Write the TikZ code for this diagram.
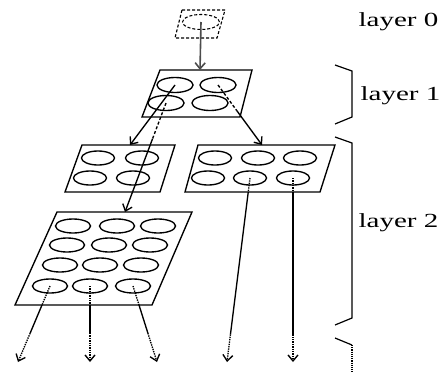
\documentclass[tikz,border=0pt]{standalone}
\usepackage{fontspec}
\setmainfont{Liberation Serif}
\usetikzlibrary{shapes.geometric,arrows.meta,calc}
\begin{document}
\begin{tikzpicture}[x=1pt,y=-1pt,line width=1.35pt,
  cell/.style={draw,ellipse,inner sep=0pt,minimum width=33pt,minimum height=14pt},
  bigcell/.style={cell,minimum width=36pt,minimum height=15pt},
  panel/.style={draw,line join=miter},
  tip/.style={-{Straight Barb[length=6pt,width=10pt]}},
  lbl/.style={anchor=west,inner sep=0pt,font=\fontsize{20}{22}\selectfont},
  brace/.style={draw,line width=1.2pt}]
\useasboundingbox (0,0) rectangle (441,372);
% layer 0
\coordinate (p0a) at (182,10); \coordinate (p0b) at (225,10);
\coordinate (p0c) at (217,38); \coordinate (p0d) at (175,38);
\draw[panel,densely dashed,line width=1.1pt] (p0a)--(p0b)--(p0c)--(p0d)--cycle;
\node[cell,densely dashed,line width=1.1pt,minimum width=37pt,minimum height=15pt] (z) at (201,22) {};
% layer 1
\coordinate (p1a) at (160,70); \coordinate (p1b) at (252,70);
\coordinate (p1c) at (240,117); \coordinate (p1d) at (142,117);
\coordinate (p1t) at (200,70);
\draw[panel] (p1a)--(p1b)--(p1c)--(p1d)--cycle;
\node[bigcell] (a11) at (175,85) {};
\node[bigcell] (a12) at (218,85) {};
\node[bigcell] (a21) at (166,103) {};
\node[bigcell] (a22) at (210,103) {};
% layer 2 left box
\coordinate (pla) at (82,145); \coordinate (plb) at (175,145);
\coordinate (plc) at (160,192); \coordinate (pld) at (65,192);
\coordinate (plt) at (130,145);
\draw[panel] (pla)--(plb)--(plc)--(pld)--cycle;
\node[cell] (l11) at (98,158) {};
\node[cell] (l12) at (142,158) {};
\node[cell] (l21) at (90,178) {};
\node[cell] (l22) at (133,178) {};
% layer 2 right box
\coordinate (pra) at (198,145); \coordinate (prb) at (335,145);
\coordinate (prc) at (320,192); \coordinate (prd) at (185,192);
\coordinate (prt) at (262,145);
\draw[panel] (pra)--(prb)--(prc)--(prd)--cycle;
\node[cell] (r11) at (215,158) {};
\node[cell] (r12) at (258,158) {};
\node[cell] (r13) at (300,158) {};
\node[cell] (r21) at (208,178) {};
\node[cell] (r22) at (250,178) {};
\node[cell] (r23) at (293,178) {};
% big box
\coordinate (pba) at (57,212); \coordinate (pbb) at (192,212);
\coordinate (pbc) at (152,305); \coordinate (pbd) at (15,305);
\coordinate (pbt) at (125,212);
\draw[panel] (pba)--(pbb)--(pbc)--(pbd)--cycle;
\node[cell,minimum width=35pt] (b11) at (73,226) {};
\node[cell,minimum width=35pt] (b12) at (117,226) {};
\node[cell,minimum width=35pt] (b13) at (158,226) {};
\node[cell,minimum width=35pt] (b21) at (67,245) {};
\node[cell,minimum width=35pt] (b22) at (109,245) {};
\node[cell,minimum width=35pt] (b23) at (150,245) {};
\node[cell,minimum width=35pt] (b31) at (60,265) {};
\node[cell,minimum width=35pt] (b32) at (100,265) {};
\node[cell,minimum width=35pt] (b33) at (141,265) {};
\node[cell,minimum width=35pt] (b41) at (50,286) {};
\node[cell,minimum width=35pt] (b42) at (90,286) {};
\node[cell,minimum width=35pt] (b43) at (133,286) {};
% arrow ends at the bottom
\coordinate (t1) at (18,362);
\coordinate (t2) at (90,362);
\coordinate (t3) at (157,362);
\coordinate (t4) at (227,362);
\coordinate (t5) at (293,362);
% connectors
\draw[tip,draw=black!70,line width=1.6pt] (z.center) -- (p1t);
\draw[tip] (a11.center) -- (plt);
\draw[densely dashed] (a21.center) -- ($(a21.center)!0.33!(pbt)$);
\draw[tip] ($(a21.center)!0.33!(pbt)$) -- (pbt);
\draw[densely dashed] (a12.center) -- ($(a12.center)!0.42!(prt)$);
\draw[tip] ($(a12.center)!0.42!(prt)$) -- (prt);
\foreach \s/\t in {b41/t1,b42/t2,b43/t3}{
  \draw[densely dotted] (\s.center) -- ($(\s.center)!0.25!(\t)$);
  \draw ($(\s.center)!0.25!(\t)$) -- ($(\s.center)!0.62!(\t)$);
  \draw[densely dotted,tip] ($(\s.center)!0.62!(\t)$) -- (\t);
}
\foreach \s/\t in {r22/t4,r23/t5}{
  \draw[densely dotted] (\s.center) -- ($(\s.center)!0.076!(\t)$);
  \draw ($(\s.center)!0.076!(\t)$) -- ($(\s.center)!0.85!(\t)$);
  \draw[densely dotted,tip] ($(\s.center)!0.85!(\t)$) -- (\t);
}
% braces
\draw[brace] (335,65) -- (352,71) -- (352,117) -- (335,124);
\draw[brace] (335,137) -- (352,143) -- (352,318) -- (335,325);
\draw[brace] (335,338) -- (352,345);
\draw[brace,densely dotted] (352,345) -- (352,372);
% labels
\node[lbl] (L0) at (358,22) {\scalebox{1.45}[1]{layer 0}};
\node[lbl] (L1) at (360,96) {\scalebox{1.45}[1]{layer 1}};
\node[lbl] (L2) at (358,223) {\scalebox{1.45}[1]{layer 2}};
\end{tikzpicture}
\end{document}
